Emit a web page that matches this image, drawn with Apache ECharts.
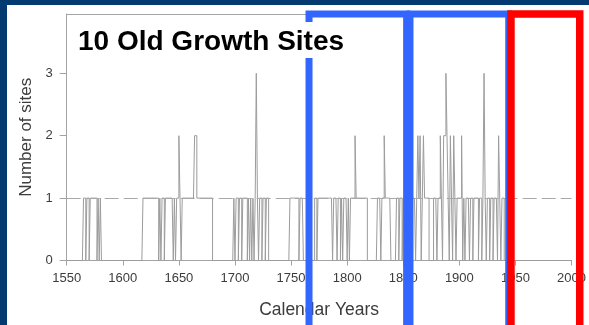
<!DOCTYPE html>
<html>
<head>
<meta charset="utf-8">
<title>10 Old Growth Sites</title>
<script src="https://cdn.jsdelivr.net/npm/echarts@6/dist/echarts.min.js"></script>
<style>
  html, body { margin: 0; padding: 0; width: 589px; height: 325px; overflow: hidden; background: #033a6f; }
  #paper { position: absolute; left: 7px; top: 5px; right: 0; bottom: 0; background: #ffffff; }
  #chart { position: absolute; left: 0; top: 0; width: 589px; height: 325px; }
</style>
</head>
<body>
<div id="paper"></div>
<div id="chart"></div>
<script>
// Calendar span of the record
const yearRange = [1550, 2000];

// Periods in which one site is recorded: [first year, year after last]
const oneSitePeriods = [
  [1565, 1567], [1568, 1570], [1571, 1577], [1578, 1579], [1580, 1581],
  [1618, 1632], [1633, 1634], [1635, 1637], [1638, 1645], [1646, 1647], [1648, 1652], [1653, 1680],
  [1699, 1700], [1701, 1703], [1704, 1706], [1707, 1711], [1712, 1713], [1714, 1715], [1716, 1717],
  [1718, 1721], [1722, 1724], [1725, 1727], [1728, 1730],
  [1749, 1757], [1758, 1761],
  [1771, 1773], [1774, 1787], [1788, 1791], [1792, 1794], [1795, 1796], [1797, 1800], [1801, 1802], [1803, 1818],
  [1827, 1830], [1831, 1839],
  [1844, 1846], [1847, 1849], [1850, 1861], [1862, 1866], [1867, 1873],
  [1877, 1880], [1881, 1885], [1886, 1891], [1892, 1894], [1895, 1897], [1898, 1903], [1904, 1905],
  [1906, 1909], [1910, 1912], [1913, 1917], [1918, 1920], [1921, 1924], [1925, 1927], [1928, 1930],
  [1931, 1934], [1935, 1937], [1938, 1940]
];

// Years recorded at two and at three sites
const twoSiteYears = [1650, 1664, 1665, 1807, 1833, 1863, 1865, 1868, 1883, 1886, 1887, 1889, 1892, 1895, 1902, 1935];
const threeSiteYears = [1719, 1888, 1922];

// Tick labels
const xTicks = [1550, 1600, 1650, 1700, 1750, 1800, 1850, 1900, 1950, 2000];
const yTicks = [0, 1, 2, 3];

// Highlighted periods drawn as open frames
const blueFrames = [[1766, 1853], [1856, 1944]];
const redFrame = [1946, 2007.3];

// Yearly number of sites
function siteCount(year) {
  if (threeSiteYears.includes(year)) return 3;
  if (twoSiteYears.includes(year)) return 2;
  for (const p of oneSitePeriods) {
    if (year >= p[0] && year < p[1]) return 1;
  }
  return 0;
}

// Each year holds its count until the next year begins (histogram outline)
const outline = [];
for (let y = yearRange[0]; y < yearRange[1]; y++) {
  const c = siteCount(y);
  outline.push([y, c], [y + 1, c]);
}

const gray = '#a3a3a3';
const labelColor = '#3c3c3c';
const font = 'Arial, "Liberation Sans", sans-serif';

const chart = echarts.init(document.getElementById('chart'), null, { renderer: 'canvas' });

chart.setOption({
  backgroundColor: 'transparent',
  animation: false,
  title: {
    text: '10 Old Growth Sites',
    left: 74,
    top: 22,
    padding: [6, 8, 2, 4],
    backgroundColor: '#ffffff',
    z: 20,
    textStyle: { fontFamily: font, fontSize: 28, fontWeight: 'bold', color: '#000000' }
  },
  grid: { left: 66.7, right: 16, top: 14, bottom: 64.5, show: false },
  xAxis: [{
    type: 'value',
    min: yearRange[0], max: yearRange[1], interval: 50,
    name: 'Calendar Years',
    nameLocation: 'middle',
    nameGap: 41,
    nameTextStyle: { fontFamily: font, fontSize: 17.5, color: labelColor },
    axisLine: { show: true, onZero: false, lineStyle: { color: gray, width: 1 } },
    axisTick: { show: true, length: 5, lineStyle: { color: gray } },
    axisLabel: {
      customValues: xTicks, fontFamily: font, fontSize: 13, color: labelColor, margin: 11,
      formatter: v => String(v)
    },
    splitLine: { show: false }
  }, {
    // top edge of the plot frame
    type: 'value',
    position: 'top',
    min: yearRange[0], max: yearRange[1],
    axisLine: { show: true, onZero: false, lineStyle: { color: gray, width: 1 } },
    axisTick: { show: false },
    axisLabel: { show: false },
    splitLine: { show: false }
  }],
  yAxis: {
    type: 'value',
    min: 0, max: 3.95,
    name: 'Number of sites',
    nameLocation: 'middle',
    nameRotate: 90,
    nameGap: 32,
    nameTextStyle: { fontFamily: font, fontSize: 17, color: labelColor },
    axisLine: { show: true, lineStyle: { color: gray, width: 1 } },
    axisTick: { show: true, length: 7, customValues: yTicks, lineStyle: { color: gray } },
    axisLabel: { customValues: yTicks, fontFamily: font, fontSize: 13, color: labelColor, margin: 14 },
    splitLine: { show: false }
  },
  series: [{
    type: 'line',
    xAxisIndex: 0,
    data: outline,
    symbol: 'none',
    lineStyle: { color: '#9c9c9c', width: 1, join: 'miter' },
    z: 3,
    markLine: {
      silent: true,
      symbol: 'none',
      label: { show: false },
      lineStyle: { color: '#a8a8a8', width: 1, type: [14, 5] },
      data: [{ yAxis: 1 }]
    }
  }]
});

// Open frames over the highlighted periods
function frameRect(span, color, width) {
  const x0 = chart.convertToPixel({ xAxisIndex: 0 }, span[0]);
  const x1 = chart.convertToPixel({ xAxisIndex: 0 }, span[1]);
  const top = chart.convertToPixel({ yAxisIndex: 0 }, 3.95);
  return {
    type: 'rect',
    z: 10,
    shape: { x: x0, y: top, width: x1 - x0, height: 400 },
    style: { fill: 'none', stroke: color, lineWidth: width }
  };
}
chart.setOption({
  graphic: [
    frameRect(blueFrames[0], '#3366ff', 7),
    frameRect(blueFrames[1], '#3366ff', 7),
    frameRect(redFrame, '#ff0000', 7.5)
  ]
});
</script>
</body>
</html>
